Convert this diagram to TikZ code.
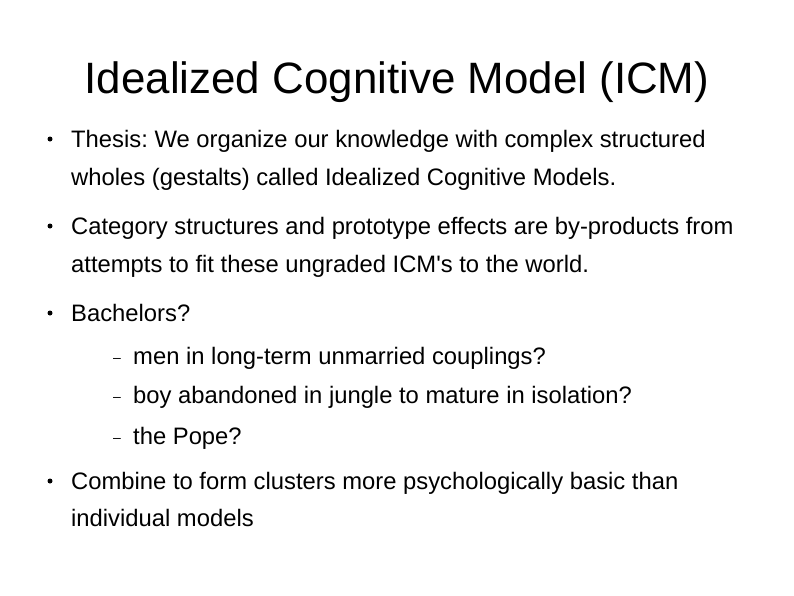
\documentclass[tikz,border=0pt]{standalone}
\usepackage{fontspec}
\setmainfont{Liberation Sans}
\frenchspacing
\begin{document}
\begin{tikzpicture}[x=1pt,y=-1pt,
  body/.style={anchor=base west,inner sep=0pt,font=\fontsize{23.8}{28}\selectfont},
  dot/.style={circle,fill=black,inner sep=0pt,minimum size=5pt},
  subdash/.style={anchor=base west,inner sep=0pt,font=\fontsize{14}{16}\selectfont}]
\useasboundingbox (0,0) rectangle (794,595);
\node[anchor=base,inner sep=0pt,font=\fontsize{43.9}{50}\selectfont] (title) at (397,93) {Idealized Cognitive Model (ICM)};
\node[dot] (b1) at (50,139) {};
\node[body] (t1a) at (71,147) {Thesis: We organize our knowledge with complex structured};
\node[body] (t1b) at (71,185) {wholes (gestalts) called Idealized Cognitive Models.};
\node[dot] (b2) at (50,226) {};
\node[body] (t2a) at (71,234) {Category structures and prototype effects are by-products from};
\node[body] (t2b) at (71,272) {attempts to fit these ungraded ICM\textquotesingle s to the world.};
\node[dot] (b3) at (50,313) {};
\node[body] (t3) at (71,321) {Bachelors?};
\node[subdash] (d1) at (113,362) {–};
\node[body] (s1) at (133,364) {men in long-term unmarried couplings?};
\node[subdash] (d2) at (113,401) {–};
\node[body] (s2) at (133,403) {boy abandoned in jungle to mature in isolation?};
\node[subdash] (d3) at (113,442) {–};
\node[body] (s3) at (133,444) {the Pope?};
\node[dot] (b4) at (50,481) {};
\node[body] (t4a) at (71,489) {Combine to form clusters more psychologically basic than};
\node[body] (t4b) at (71,526) {individual models};
\end{tikzpicture}
\end{document}
